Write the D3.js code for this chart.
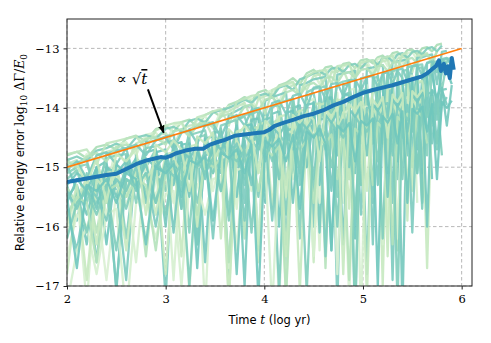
<!DOCTYPE html>
<html>
<head>
<meta charset="utf-8">
<script src="https://cdn.jsdelivr.net/npm/d3@7"></script>
<style>
  body { margin: 0; background: #fff; }
</style>
</head>
<body>
<svg class="chart"></svg>
<script>
// Shared time grid (log yr) for the individual runs
var times = [2.0, 2.1, 2.2, 2.3, 2.4, 2.5, 2.6, 2.7, 2.8, 2.9, 3.0,
    3.08, 3.16, 3.24, 3.32, 3.4, 3.48, 3.56, 3.64, 3.72, 3.8,
    3.87, 3.94, 4.01, 4.08, 4.15, 4.22, 4.29, 4.36, 4.43, 4.5,
    4.56, 4.62, 4.68, 4.74, 4.8, 4.86, 4.92, 4.98, 5.04, 5.1,
    5.15, 5.2, 5.25, 5.3, 5.35, 5.4, 5.45, 5.5, 5.55, 5.6, 5.65, 5.7, 5.75, 5.8, 5.85, 5.9];

// Individual runs: log10 relative energy error
var runs = [
    [-14.80,-14.74,-14.85,-14.66,-14.62,-14.70,-14.52,-14.47,-14.56,-14.36,-14.30,-14.41,-14.24,-14.20,-14.32,-14.12,-14.06,-14.15,-13.95,-13.90,-13.82,-13.88,-13.74,-13.70,-13.80,-13.62,-13.58,-13.50,-13.60,-13.42,-13.36,-13.45,-13.32,-13.30,-13.40,-13.26,-13.24,-13.33,-13.20,-13.18,-13.25,-13.15,-13.12,-13.20,-13.08,-13.06,-13.14,-13.03,-13.02,-13.10,-13.00,-12.98,-13.05,-12.94,-12.92],
    [-14.85,-15.10,-14.78,-14.90,-15.40,-14.62,-14.58,-14.80,-14.45,-14.42,-14.60,-14.30,-14.26,-14.50,-14.20,-14.14,-14.35,-14.05,-13.98,-14.30,-13.86,-13.84,-14.10,-13.75,-13.70,-13.90,-13.62,-13.58,-13.80,-13.46,-13.42,-13.60,-13.36,-13.35,-13.55,-13.30,-13.28,-13.45,-13.24,-13.22,-13.40,-13.18,-13.16,-13.30,-13.12,-13.10,-13.25,-13.08,-13.06,-13.20,-13.05],
    [-15.30,-15.90,-15.10,-16.60,-14.95,-15.40,-16.90,-14.80,-15.50,-14.70,-17.20,-14.60,-15.70,-14.50,-16.30,-14.45,-15.10,-14.35,-16.80,-14.20,-15.60,-14.10,-16.40,-14.00,-14.70,-13.95,-16.90,-13.85,-15.30,-13.80,-16.00,-13.70,-14.40,-13.65,-17.30,-13.60,-15.20,-13.55,-14.60,-13.50,-16.30,-13.45,-14.20,-13.40,-15.60,-13.38,-13.50,-14.80,-13.30,-13.28,-15.10,-13.25,-13.22,-14.10,-13.20,-13.25],
    [-14.95,-14.88,-15.20,-14.80,-14.74,-14.70,-14.95,-14.60,-14.52,-14.48,-14.42,-14.65,-14.36,-14.30,-14.28,-14.22,-14.50,-14.10,-14.06,-13.98,-13.92,-14.20,-13.85,-13.80,-13.78,-14.05,-13.68,-13.62,-13.58,-13.70,-13.46,-13.44,-13.70,-13.40,-13.38,-13.36,-13.60,-13.32,-13.30,-13.28,-13.50,-13.24,-13.22,-13.20,-13.45,-13.17,-13.15,-13.14,-13.40,-13.12,-13.10,-13.08,-13.30,-13.04],
    [-15.20,-15.05,-15.60,-15.00,-15.30,-14.90,-16.20,-14.85,-15.00,-14.70,-15.40,-14.62,-14.58,-16.10,-14.50,-14.46,-14.90,-14.35,-15.80,-14.20,-14.15,-14.50,-14.08,-15.40,-13.98,-13.95,-14.60,-13.88,-16.20,-13.80,-13.75,-14.30,-13.70,-13.68,-15.50,-13.62,-13.60,-14.20,-13.55,-16.80,-13.50,-13.48,-14.60,-13.45,-13.42,-15.20,-13.38,-13.36,-14.00,-13.33,-13.32,-14.80,-13.28,-13.26,-13.70,-13.22,-13.20],
    [-16.20,-15.40,-17.30,-15.10,-15.80,-15.00,-15.20,-16.60,-14.90,-15.50,-14.80,-16.90,-14.70,-15.20,-14.60,-17.40,-14.50,-14.90,-14.40,-15.70,-14.30,-14.25,-16.30,-14.15,-14.50,-14.05,-17.20,-14.00,-15.00,-13.90,-13.85,-16.40,-13.80,-14.30,-13.75,-15.60,-13.70,-13.68,-17.50,-13.62,-14.60,-13.58,-13.55,-16.00,-13.52,-13.50,-14.90,-13.48,-13.46,-15.60],
    [-15.00,-14.92,-14.88,-15.50,-14.78,-14.72,-14.68,-15.30,-14.58,-14.55,-14.48,-14.45,-15.20,-14.36,-14.32,-14.28,-14.24,-15.00,-14.12,-14.05,-13.98,-13.95,-14.70,-13.88,-13.82,-13.78,-13.74,-15.10,-13.62,-13.58,-13.52,-13.50,-13.48,-14.60,-13.44,-13.42,-13.40,-13.38,-15.30,-13.34,-13.32,-13.30,-13.28,-14.20,-13.24,-13.22,-13.20,-13.19,-14.90,-13.16,-13.15,-13.12,-13.10,-13.60,-13.06,-13.04],
    [-15.35,-15.60,-15.25,-16.10,-15.15,-15.10,-15.40,-15.00,-16.50,-14.90,-14.85,-15.20,-14.78,-14.75,-15.90,-14.65,-14.60,-14.90,-14.52,-14.48,-16.20,-14.35,-14.32,-14.70,-14.25,-14.20,-15.30,-14.10,-14.05,-14.40,-13.95,-13.92,-16.70,-13.88,-13.86,-14.30,-13.82,-13.80,-15.10,-13.75,-13.72,-13.70,-14.60,-13.66,-13.65,-16.40,-13.62,-13.60,-14.10,-13.58,-13.56],
    [-14.95,-15.40,-16.30,-15.00,-14.90,-17.10,-14.80,-15.30,-14.75,-14.70,-16.00,-14.62,-14.58,-15.20,-14.50,-16.60,-14.42,-14.40,-14.90,-14.30,-17.00,-14.20,-14.18,-15.60,-14.10,-14.06,-16.30,-14.00,-13.96,-15.00,-13.90,-16.10,-13.84,-13.82,-14.80,-13.78,-13.75,-17.60,-13.72,-13.70,-15.40,-13.66,-13.65,-14.50,-13.60,-13.58,-17.40,-13.55,-13.52,-14.70,-13.50,-13.48,-15.20],
    [-16.50,-15.80,-16.00,-15.50,-16.90,-15.40,-15.60,-15.30,-16.20,-15.20,-15.10,-15.60,-15.05,-17.10,-15.00,-14.95,-15.40,-14.85,-14.80,-16.40,-14.70,-14.65,-15.10,-14.55,-14.50,-17.30,-14.42,-14.40,-14.80,-14.30,-14.25,-15.60,-14.20,-14.15,-16.80,-14.08,-14.05,-14.50,-14.00,-13.98,-15.50,-13.95,-13.92,-14.40,-13.88,-16.20,-13.85,-13.82,-14.90],
    [-14.88,-14.82,-14.90,-14.72,-14.68,-14.60,-14.70,-14.50,-14.46,-14.52,-14.35,-14.32,-14.40,-14.22,-14.18,-14.25,-14.08,-14.04,-14.00,-13.94,-13.86,-13.92,-13.80,-13.76,-13.82,-13.66,-13.62,-13.70,-13.52,-13.48,-13.42,-13.38,-13.45,-13.34,-13.32,-13.40,-13.28,-13.26,-13.34,-13.22,-13.20,-13.28,-13.16,-13.14,-13.22,-13.10,-13.08,-13.16,-13.06,-13.04,-13.10,-13.00,-12.98,-13.05,-12.95],
    [-16.80,-15.50,-15.20,-16.30,-15.10,-15.05,-15.50,-14.95,-14.90,-15.80,-14.78,-14.75,-16.50,-14.65,-14.62,-15.10,-14.55,-14.50,-17.20,-14.40,-14.35,-14.80,-14.28,-14.25,-15.70,-14.15,-14.12,-14.50,-14.05,-14.02,-16.60,-13.95,-13.92,-14.40,-13.88,-13.85,-15.20,-13.80,-13.78,-14.20,-13.74,-13.72,-17.00,-13.68,-13.66,-14.30,-13.62,-13.60,-15.40,-13.56,-13.55,-14.10],
    [-15.60,-15.20,-15.40,-15.00,-16.30,-14.95,-15.10,-14.85,-15.60,-14.75,-14.70,-15.30,-14.62,-14.60,-16.70,-14.52,-14.48,-14.70,-14.40,-15.50,-14.30,-14.28,-14.60,-14.20,-14.15,-16.00,-14.08,-14.05,-14.40,-13.95,-13.92,-15.30,-13.86,-13.84,-14.20,-13.80,-13.78,-16.20,-13.72,-13.70,-14.40,-13.66,-13.64,-15.10,-13.60,-13.58,-13.56,-14.60,-13.52,-13.50,-15.60,-13.46,-13.44,-13.90,-13.40,-13.38,-13.60],
    [-14.78,-14.74,-14.70,-14.95,-14.60,-14.56,-14.52,-14.48,-14.70,-14.38,-14.30,-14.26,-14.24,-14.45,-14.16,-14.12,-14.06,-14.02,-14.30,-13.90,-13.85,-13.80,-13.78,-14.10,-13.70,-13.64,-13.60,-13.56,-13.80,-13.48,-13.40,-13.38,-13.36,-13.60,-13.30,-13.28,-13.26,-13.50,-13.24,-13.22,-13.20,-13.40,-13.16,-13.14,-13.12,-13.35,-13.10,-13.08],
    [-15.70,-16.40,-15.40,-15.60,-15.30,-17.00,-15.20,-15.30,-15.10,-16.00,-15.00,-14.95,-15.40,-14.88,-16.30,-14.80,-14.75,-15.10,-14.68,-14.65,-15.90,-14.55,-14.52,-14.80,-14.45,-17.10,-14.38,-14.35,-14.60,-14.28,-15.20,-14.20,-14.18,-16.40,-14.12,-14.10,-14.50,-14.05,-15.80,-14.00,-13.98,-14.40,-13.94,-13.92,-16.90,-13.88,-13.86,-14.30,-13.82,-13.80,-15.00,-13.76,-13.74,-14.20,-13.70,-13.68],
    [-17.30,-16.40,-16.00,-16.80,-15.80,-15.70,-17.50,-15.60,-15.55,-16.20,-15.45,-15.40,-17.00,-15.30,-15.28,-15.80,-15.20,-15.15,-16.70,-15.05,-15.00,-15.40,-14.92,-14.90,-17.40,-14.82,-14.80,-15.20,-14.72,-14.70,-16.50,-14.62,-14.60,-14.90,-14.55,-14.52,-17.20,-14.45,-14.42,-14.80,-14.36,-14.34,-16.30,-14.28,-14.26,-14.60],
    [-15.10,-15.00,-14.95,-15.40,-14.85,-14.80,-14.78,-15.60,-14.68,-14.65,-14.58,-14.55,-14.90,-14.46,-14.42,-14.38,-15.00,-14.30,-14.25,-14.20,-14.12,-14.10,-14.06,-14.80,-13.98,-13.92,-13.88,-13.84,-14.50,-13.74,-13.68,-13.66,-13.64,-14.20,-13.60,-13.56,-13.54,-17.50,-13.50,-13.48,-13.46,-14.00,-13.42,-13.40,-13.38,-13.36,-14.50,-13.32,-13.30,-13.28,-13.27,-13.80,-13.24,-13.22,-13.20,-13.18,-13.16],
    [-14.90,-15.00,-14.82,-14.76,-14.90,-14.66,-14.62,-14.70,-14.52,-14.50,-14.62,-14.40,-14.36,-14.48,-14.30,-14.25,-14.32,-14.15,-14.10,-14.18,-13.98,-13.94,-14.05,-13.86,-13.82,-13.95,-13.74,-13.70,-13.80,-13.62,-13.58,-13.66,-13.50,-13.48,-13.58,-13.42,-13.40,-13.50,-13.36,-13.34,-13.44,-13.30,-13.28,-13.38,-13.24,-13.22,-13.32,-13.18,-13.16,-13.26,-13.12,-13.10,-13.20,-13.06],
    [-15.50,-15.30,-15.80,-15.20,-15.10,-15.50,-15.00,-15.30,-14.95,-15.60,-14.90,-15.20,-14.80,-15.50,-14.75,-15.00,-14.70,-15.40,-14.60,-14.90,-14.55,-15.30,-14.45,-14.80,-14.40,-15.20,-14.30,-14.70,-14.25,-15.00,-14.20,-14.60,-14.15,-15.40,-14.10,-14.50,-14.05,-15.10,-14.00,-14.40,-13.95,-15.30,-13.90,-14.30,-13.85,-14.90,-13.82,-14.20,-13.78,-15.10,-13.75,-14.10,-13.72,-14.60,-13.70,-13.95],
    [-15.90,-15.40,-16.10,-15.30,-15.60,-15.20,-15.70,-15.10,-15.40,-15.05,-15.80,-14.95,-15.30,-14.90,-15.60,-14.85,-15.10,-14.80,-15.90,-14.70,-15.20,-14.62,-15.50,-14.55,-14.90,-14.50,-15.80,-14.42,-15.00,-14.38,-15.40,-14.32,-14.70,-14.28,-16.00,-14.22,-14.80,-14.18,-15.30,-14.12,-14.60,-14.08,-16.20,-14.05,-14.50,-14.00,-15.20,-13.96,-14.40,-13.92,-15.70,-13.88,-14.30,-13.85,-14.80],
    [-16.00,-15.30,-16.90,-15.20,-15.40,-15.10,-16.40,-15.00,-15.20,-14.95,-16.80,-14.85,-15.10,-14.80,-16.00,-14.70,-14.90,-14.65,-17.30,-14.55,-14.80,-14.48,-16.60,-14.40,-14.70,-14.35,-15.50,-14.28,-17.10,-14.22,-14.50,-14.18,-16.20,-14.12,-14.40,-14.08,-15.70,-14.04,-14.30,-17.20,-13.96,-14.20,-13.94,-16.50,-13.90,-14.10,-13.86,-15.40,-13.84,-14.00,-13.82,-16.70,-13.80],
    [-15.05,-14.90,-15.20,-14.80,-14.75,-14.95,-14.68,-14.62,-14.80,-14.55,-14.50,-14.70,-14.42,-14.38,-14.60,-14.30,-14.26,-14.50,-14.18,-14.12,-14.30,-14.04,-14.00,-14.25,-13.92,-13.88,-14.10,-13.80,-13.76,-14.00,-13.66,-13.64,-13.85,-13.60,-13.58,-13.80,-13.54,-13.52,-13.70,-13.48,-13.46,-13.65,-13.42,-13.40,-13.60,-13.36,-13.34,-13.55,-13.30,-13.28,-13.45,-13.24,-13.22,-13.40,-13.18,-13.16,-13.30],
    [-15.40,-15.70,-15.30,-15.50,-15.90,-15.20,-15.40,-15.00,-15.60,-14.95,-15.10,-14.90,-15.70,-14.80,-15.00,-14.75,-16.20,-14.70,-14.85,-14.60,-15.30,-14.55,-14.70,-14.50,-15.90,-14.45,-14.60,-14.40,-15.10,-14.35,-14.50,-14.30,-16.50,-14.25,-14.40,-14.20,-15.00,-14.15,-14.30,-14.10,-15.60,-14.05,-14.20,-14.00,-14.80,-13.98,-14.10,-13.95,-16.10,-13.90,-14.05,-13.88,-14.60,-13.85,-13.95,-13.82],
    [-15.80,-15.50,-15.60,-16.60,-15.40,-15.30,-15.50,-15.20,-15.30,-16.40,-15.10,-15.00,-15.20,-14.95,-15.80,-14.90,-15.00,-14.85,-16.60,-14.80,-14.90,-14.75,-15.40,-14.70,-14.80,-14.65,-17.20,-14.60,-14.70,-14.55,-15.60,-14.50,-14.60,-14.45,-15.20,-14.40,-16.90,-14.35,-14.45,-14.30,-15.30,-14.25,-14.35,-14.20,-16.30,-14.15,-14.25,-14.10,-15.00,-14.05,-14.15,-14.60],
    [-15.30,-15.10,-15.20,-15.70,-15.00,-15.10,-14.90,-15.40,-14.85,-15.00,-14.80,-16.10,-14.72,-14.85,-14.65,-15.20,-14.58,-14.70,-14.50,-16.80,-14.45,-14.60,-14.38,-14.90,-14.32,-14.45,-14.28,-15.60,-14.22,-14.35,-14.18,-14.70,-14.12,-14.25,-14.08,-16.30,-14.02,-14.15,-13.98,-14.80,-13.94,-14.05,-13.90,-15.50,-13.86,-13.98,-13.82,-14.40,-13.78,-13.90,-13.74,-16.00,-13.70,-13.80,-13.66,-14.30,-13.62],
    [-16.20,-15.60,-15.40,-15.80,-15.30,-16.40,-15.20,-15.35,-15.10,-15.60,-15.00,-15.15,-14.95,-17.00,-14.90,-15.10,-14.85,-15.40,-14.78,-14.90,-14.72,-16.10,-14.66,-14.80,-14.60,-15.20,-14.55,-14.70,-14.50,-17.10,-14.45,-14.60,-14.40,-15.00,-14.35,-14.50,-14.30,-15.80,-14.25,-14.40,-14.20,-14.90,-14.16,-14.30,-14.12,-17.30,-14.08,-14.20,-14.04,-15.10,-14.00,-14.15,-13.96,-14.70,-13.92],
    [-15.00,-14.95,-15.30,-14.85,-15.60,-14.78,-14.90,-14.70,-15.80,-14.62,-14.75,-14.55,-14.70,-15.40,-14.48,-14.60,-14.42,-16.20,-14.36,-14.50,-14.30,-14.45,-15.10,-14.22,-14.35,-14.18,-16.50,-14.12,-14.25,-14.08,-14.20,-14.90,-14.02,-14.15,-13.98,-16.80,-13.94,-14.05,-13.90,-15.40,-13.86,-13.98,-13.82,-14.50,-13.78,-13.90,-13.75,-15.90,-13.72,-13.82,-13.70],
    [-15.50,-16.70,-15.30,-15.40,-15.20,-15.60,-15.10,-15.20,-16.30,-15.00,-15.10,-14.95,-15.50,-14.88,-14.95,-14.82,-15.90,-14.75,-14.85,-14.70,-15.10,-14.62,-17.20,-14.56,-14.65,-14.52,-14.90,-14.46,-15.70,-14.40,-14.50,-14.35,-14.60,-16.40,-14.30,-14.40,-14.26,-14.90,-14.22,-14.30,-14.18,-17.00,-14.14,-14.25,-14.10,-14.60,-14.06,-15.60,-14.02,-14.10,-13.98,-14.40,-13.94,-15.20,-13.90,-14.00,-13.88]
];
var runColors = ["#a8ddb5", "#d5efcf", "#7ccbbf", "#c2e6c0", "#86d0bd", "#d5efcf", "#7ccbbf", "#b5e2bb",
    "#74c8bd", "#d9f0d3", "#80cdbb", "#c7e9c0", "#6fc6bd", "#bfe5bf", "#7ccbbf", "#d5efcf",
    "#86d0bd", "#b5e2bb", "#74c8bd", "#80cdbb", "#c7e9c0", "#7ccbbf",
    "#7ccbbf", "#b5e2bb", "#74c8bd", "#80cdbb", "#c7e9c0", "#6fc6bd"];

// Mean over runs
var meanTimes = [2.0, 2.1, 2.2, 2.3, 2.4, 2.5, 2.6, 2.7, 2.8, 2.9, 2.95, 3.0, 3.05, 3.1, 3.2, 3.3, 3.38, 3.45, 3.52, 3.6, 3.7, 3.8, 3.9, 4.0, 4.05, 4.1, 4.2, 4.3, 4.4, 4.5, 4.6, 4.7, 4.8, 4.9, 5.0, 5.1, 5.2, 5.3, 5.4, 5.5, 5.6, 5.65, 5.7, 5.74, 5.77, 5.79, 5.82, 5.84, 5.86, 5.88, 5.9, 5.92];
var meanErr = [-15.25, -15.22, -15.19, -15.16, -15.13, -15.11, -15.03, -14.95, -14.89, -14.85, -14.83, -14.84, -14.81, -14.77, -14.72, -14.69, -14.69, -14.62, -14.58, -14.54, -14.47, -14.45, -14.43, -14.41, -14.37, -14.31, -14.25, -14.2, -14.14, -14.1, -14.04, -13.96, -13.9, -13.82, -13.75, -13.7, -13.66, -13.62, -13.57, -13.52, -13.47, -13.42, -13.35, -13.3, -13.2, -13.38, -13.26, -13.42, -13.3, -13.5, -13.16, -13.36];

// sqrt(t) reference line
var trendTimes = [2, 6];
var trendErr = [-15, -13];

var xTicks = [2, 3, 4, 5, 6];
var yTicks = [-17, -16, -15, -14, -13];

var serif = "'DejaVu Serif', 'Liberation Serif', serif",
    sans = "'DejaVu Sans', 'Liberation Sans', sans-serif";

var margin = { top: 19, right: 19, bottom: 57, left: 67 },
    width = 491 - margin.left - margin.right,
    height = 343 - margin.top - margin.bottom;

var svg = d3.select(".chart")
    .attr("width", 491)
    .attr("height", 343);

var chart = svg.append("g")
    .attr("transform", "translate(" + margin.left + "," + margin.top + ")");

var x = d3.scaleLinear().domain([2, 6.105]).range([0, width]);
var y = d3.scaleLinear().domain([-17, -12.505]).range([height, 0]);

svg.append("defs").append("clipPath").attr("id", "plot")
    .append("rect").attr("width", width).attr("height", height);

// grid
chart.append("g").selectAll("line").data(xTicks).enter().append("line")
    .attr("x1", d => x(d)).attr("x2", d => x(d)).attr("y1", 0).attr("y2", height)
    .attr("stroke", "#b0b0b0").attr("stroke-width", 0.9).attr("stroke-dasharray", "3.5,2.5");
chart.append("g").selectAll("line").data(yTicks).enter().append("line")
    .attr("y1", d => y(d)).attr("y2", d => y(d)).attr("x1", 0).attr("x2", width)
    .attr("stroke", "#b0b0b0").attr("stroke-width", 0.9).attr("stroke-dasharray", "3.5,2.5");

var plot = chart.append("g").attr("clip-path", "url(#plot)");

var runLine = d3.line()
    .x(function (d, i) { return x(times[i]); })
    .y(function (d) { return y(d); });

plot.selectAll(".run")
    .data(runs)
    .enter().append("path")
    .attr("class", "run")
    .attr("d", runLine)
    .attr("fill", "none")
    .attr("stroke", (d, i) => runColors[i % runColors.length])
    .attr("stroke-opacity", 0.9)
    .attr("stroke-width", 2.3)
    .attr("stroke-linejoin", "round");

// mean
plot.append("path")
    .datum(meanErr)
    .attr("d", d3.line().x((d, i) => x(meanTimes[i])).y(d => y(d)))
    .attr("fill", "none")
    .attr("stroke", "#1f77b4")
    .attr("stroke-width", 4)
    .attr("stroke-linejoin", "round");

// sqrt(t) line
plot.append("path")
    .datum(trendErr)
    .attr("d", d3.line().x((d, i) => x(trendTimes[i])).y(d => y(d)))
    .attr("fill", "none")
    .attr("stroke", "#ff7f0e")
    .attr("stroke-width", 1.6);

// axes
var xAxis = d3.axisBottom(x).tickValues(xTicks).tickSize(3.5).tickPadding(5).tickFormat(d3.format("d"));
var yAxis = d3.axisLeft(y).tickValues(yTicks).tickSize(3.5).tickPadding(4).tickFormat(d3.format("d"));

function styleAxis(g) {
    g.attr("font-family", null).attr("font-size", null);
    g.select(".domain").remove();
    g.selectAll(".tick line").attr("stroke", "#222");
    g.selectAll(".tick text")
        .style("font-family", serif)
        .style("font-size", "11.5px")
        .attr("fill", "#000");
}

chart.append("g")
    .attr("transform", "translate(0," + height + ")")
    .call(xAxis)
    .call(styleAxis);
chart.append("g")
    .call(yAxis)
    .call(styleAxis);

chart.append("rect")
    .attr("width", width).attr("height", height)
    .attr("fill", "none").attr("stroke", "#222").attr("stroke-width", 1);

// annotation
svg.append("defs").append("marker")
    .attr("id", "head").attr("viewBox", "0 0 10 10")
    .attr("refX", 9).attr("refY", 5)
    .attr("markerWidth", 4).attr("markerHeight", 4)
    .attr("orient", "auto")
    .append("path").attr("d", "M0,1 L10,5 L0,9 z").attr("fill", "#000");

chart.append("line")
    .attr("x1", x(2.82)).attr("y1", y(-13.69))
    .attr("x2", x(2.98)).attr("y2", y(-14.42))
    .attr("stroke", "#000").attr("stroke-width", 2)
    .attr("marker-end", "url(#head)");

var ann = chart.append("text")
    .style("font-family", serif)
    .style("font-size", "15px")
    .attr("x", x(2.66)).attr("y", y(-13.6))
    .attr("text-anchor", "middle");
ann.append("tspan").text("∝ √");
ann.append("tspan").style("font-style", "italic").style("text-decoration", "overline").text("t");

// x label
var xl = svg.append("text")
    .style("font-family", sans)
    .style("font-size", "11.5px")
    .attr("x", margin.left + width / 2)
    .attr("y", 324)
    .attr("text-anchor", "middle");
xl.append("tspan").text("Time ");
xl.append("tspan").style("font-family", serif).style("font-style", "italic").style("font-size", "12px").text("t");
xl.append("tspan").text(" (log yr)");

// y label
var yl = svg.append("text")
    .style("font-family", sans)
    .style("font-size", "11.5px")
    .attr("transform", "translate(24," + (margin.top + height / 2) + ") rotate(-90)")
    .attr("text-anchor", "middle");
yl.append("tspan").text("Relative energy error ");
yl.append("tspan").style("font-family", serif).style("font-size", "12.5px").text("log");
yl.append("tspan").style("font-family", serif).style("font-size", "9px").attr("dy", 3).text("10");
yl.append("tspan").style("font-family", serif).style("font-size", "12.5px").attr("dy", -3).text(" ΔΓ/");
yl.append("tspan").style("font-family", serif).style("font-size", "12.5px").style("font-style", "italic").text("E");
yl.append("tspan").style("font-family", serif).style("font-size", "9px").attr("dy", 3).text("0");
</script>
</body>
</html>
